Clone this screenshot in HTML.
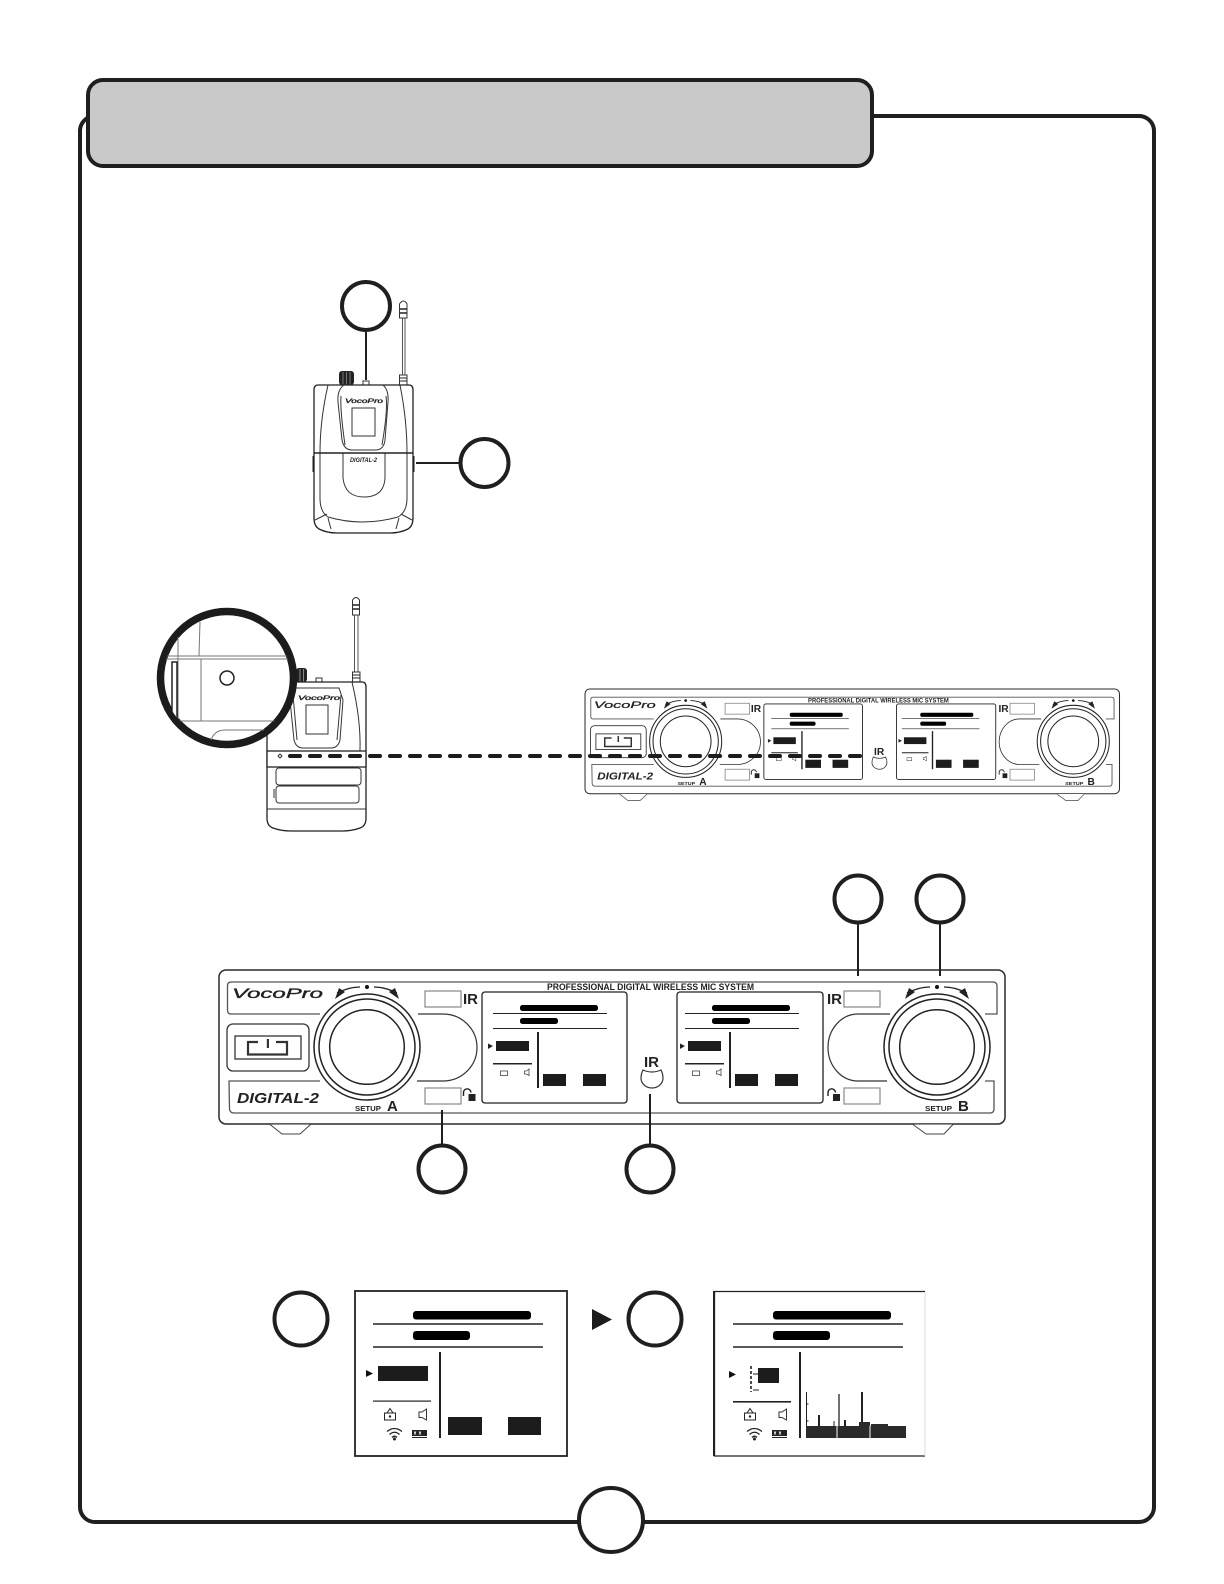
<!DOCTYPE html>
<html lang="en">
<head>
<meta charset="utf-8">
<title>Diagram</title>
<style>
html,body{margin:0;padding:0;background:#fff}
svg{display:block}
text{font-family:"Liberation Sans",sans-serif;fill:#222}
.logo{stroke:#222;stroke-width:.35}
</style>
</head>
<body>
<svg width="1224" height="1584" viewBox="0 0 1224 1584" xmlns="http://www.w3.org/2000/svg">
<defs>
<g id="knob">
  <circle r="53" fill="#fff" stroke="#222" stroke-width="1.5"/>
  <circle r="48" fill="#fff" stroke="#222" stroke-width="1.5"/>
  <circle r="37.3" fill="#fff" stroke="#222" stroke-width="1.5"/>
  <path d="M-30 -54 Q-18 -60 -7 -60 M7 -60 Q18 -60 30 -54" fill="none" stroke="#222" stroke-width="1.3"/>
  <circle cy="-60" r="2" fill="#111"/>
  <path d="M-32 -48 L-28 -59 L-22 -55Z M32 -48 L28 -59 L22 -55Z" fill="#222"/>
</g>
<g id="lock">
  <path d="M0 7 V3.5 A3.6 3.6 0 0 1 7.4 3.5" fill="none" stroke="#222" stroke-width="1.4"/>
  <rect x="5" y="5" width="7" height="7" fill="#222"/>
</g>
<g id="screen">
  <rect x="520" y="1005" width="78" height="6" rx="2.5" fill="#000"/>
  <path d="M493 1013.5H607M493 1028.5H607" stroke="#222" stroke-width="1"/>
  <rect x="520" y="1018" width="38" height="6" rx="2.5" fill="#000"/>
  <rect x="537" y="1032" width="2" height="56" fill="#222"/>
  <rect x="496" y="1041" width="33" height="10" fill="#1c1c1c"/>
  <path d="M488 1043.5L493 1046L488 1049Z" fill="#222"/>
  <rect x="493" y="1063" width="39" height="1.5" fill="#222"/>
  <rect x="500.500" y="1071" width="7" height="4.500" fill="none" stroke="#444" stroke-width=".8"/>
  <path d="M524.500 1071H526.500L529 1069V1075.500L526.500 1074H524.500Z" fill="none" stroke="#444" stroke-width=".8"/>
  <rect x="543" y="1074" width="23" height="12" fill="#1c1c1c"/>
  <rect x="583" y="1074" width="23" height="12" fill="#1c1c1c"/>
</g>
<g id="panel">
  <rect x="219" y="970" width="786" height="154" rx="7" fill="#fff" stroke="#2a2a2a" stroke-width="1.5"/>
  <path d="M270 1124.500L282 1134H300L310.500 1124.500M913 1124.500L926 1134H944L953 1124.500" fill="#fff" stroke="#444" stroke-width="1"/>
  <path d="M320 1014H231Q227.500 1014 227.500 1010V986Q227.500 982 231 982H993Q997 982 997 986V1014H985" fill="none" stroke="#555" stroke-width="1.3"/>
  <path d="M320 1081H229L229.500 1109Q230 1113 234 1113H990Q994 1113 994 1109V1081H985" fill="none" stroke="#555" stroke-width="1.3"/>
  <path d="M418 1014H443A34 33.500 0 0 1 477 1047.500A34 33.500 0 0 1 443 1081H417" fill="none" stroke="#333" stroke-width="1.2"/>
  <path d="M890 1014H858A30 33.500 0 0 0 828 1047.500A30 33.500 0 0 0 858 1081H887" fill="none" stroke="#333" stroke-width="1.2"/>
  <rect x="227" y="1024" width="82" height="47" rx="6" fill="#fff" stroke="#333" stroke-width="1.3"/>
  <rect x="235" y="1036" width="66" height="23" fill="#fff" stroke="#333" stroke-width="1.3"/>
  <path d="M258 1042H248V1054.500H287V1042H276" fill="none" stroke="#333" stroke-width="2.200"/>
  <rect x="266.800" y="1039" width="2.200" height="9" fill="#333"/>
  <use href="#knob" x="367" y="1047"/>
  <use href="#knob" x="937" y="1047"/>
  <rect x="425" y="991" width="36" height="16" fill="#fff" stroke="#888" stroke-width="1.200"/>
  <rect x="425" y="1088" width="36" height="16" fill="#fff" stroke="#888" stroke-width="1.200"/>
  <rect x="844" y="991" width="36" height="16" fill="#fff" stroke="#888" stroke-width="1.200"/>
  <rect x="844" y="1088" width="36" height="16" fill="#fff" stroke="#888" stroke-width="1.200"/>
  <use href="#lock" x="463.500" y="1089"/>
  <use href="#lock" x="828" y="1089"/>
  <rect x="482" y="992" width="145" height="111" rx="3" fill="#fff" stroke="#222" stroke-width="1.300"/>
  <rect x="677" y="992" width="146" height="111" rx="3" fill="#fff" stroke="#222" stroke-width="1.300"/>
  <use href="#screen"/>
  <use href="#screen" x="192"/>
  <path d="M643 1070Q652 1074 661 1070Q663 1074 663 1078A11 10 0 0 1 641 1078Q641 1074 643 1070Z" fill="#fff" stroke="#333" stroke-width="1.200"/>
</g>
<g id="wifi">
  <path d="M0 5Q7.500 -1 15 5M2.500 8Q7.500 3.500 12.500 8M5 11Q7.500 8.500 10 11" fill="none" stroke="#222" stroke-width="1.300"/>
  <circle cx="7.500" cy="12.500" r="1.500" fill="#222"/>
</g>
<g id="bigicons">
  <path d="M384.500 1413H395.500V1420H384.500Z M387 1413L390 1408.500L393 1413" fill="none" stroke="#222" stroke-width="1"/>
  <circle cx="390" cy="1416.500" r="1.200" fill="#222"/>
  <path d="M419 1412H422L426.500 1409V1420L422 1417.500H419Z" fill="none" stroke="#333" stroke-width="1"/>
  <use href="#wifi" x="387" y="1426.500"/>
  <rect x="412" y="1430" width="15" height="6" fill="#222"/>
  <path d="M412 1437.500H427" stroke="#222" stroke-width="1"/>
  <path d="M414 1431.500l2 3m0-3l-2 3M419 1431.500l2 3m0-3l-2 3" stroke="#fff" stroke-width=".8"/>
</g>
<clipPath id="lens"><circle cx="227" cy="678" r="64"/></clipPath>
</defs>

<!-- frame and header -->
<rect x="80" y="116" width="1074" height="1406" rx="15" fill="#fff" stroke="#1f1f1f" stroke-width="4"/>
<rect x="88" y="80" width="784" height="86" rx="15" fill="#c9c9c9" stroke="#1f1f1f" stroke-width="4"/>
<ellipse cx="611" cy="1520" rx="32" ry="32" fill="#fff" stroke="#1f1f1f" stroke-width="4"/>

<!-- receiver 1 -->
<g fill="none" stroke="#333" stroke-width="1">
  <rect x="339" y="371" width="15" height="14" rx="3" fill="#222" stroke="none"/>
  <path d="M343 372V385M346.500 372V385M350 372V385" stroke="#777"/>
  <rect x="363" y="381" width="6" height="4" fill="#fff"/>
  <path d="M402.500 318V376M405 318V376" stroke="#555"/>
  <path d="M399.500 318V304Q403.500 298 407 304V318Z" fill="#fff"/>
  <path d="M400 309H407M400 313H407" stroke="#222" stroke-width="1.500"/>
  <rect x="399.500" y="375" width="7.500" height="10" fill="#fff"/>
  <path d="M400 378H407M400 381H407" stroke="#222"/>
  <path d="M318 385H409Q413 385 413 390V518Q413 526 408 529Q400 533 390 533H337Q327 533 319 529Q314 526 314 518V390Q314 385 318 385Z" fill="#fff" stroke="#222" stroke-width="1.300"/>
  <path d="M328 385Q320 420 320 453V498Q320 512 328 517Q362 527 398 517Q407 512 407 498V453Q407 420 400 385"/>
  <path d="M344 385Q337 390 338 402L342 440Q344 450 352 450H375Q384 450 385 440L388 402Q389 390 383 385"/>
  <path d="M341 396Q340 410 345 445M386 396Q388 410 382 445"/>
  <rect x="352" y="408" width="23" height="28" fill="#fff"/>
  <path d="M343 453V478Q345 497 364 497Q384 497 385 478V453"/>
  <path d="M315 520L327 514M412 520L401 514M331 529L328 518M396 529L399 518"/>
  <path d="M314 453H413" stroke="#222" stroke-width="1.500"/>
  <path d="M313.500 456V472M413.500 456V472" stroke="#222" stroke-width="2"/>
</g>
<text class="logo" x="345" y="403" font-size="6.500" font-style="italic" textLength="38" lengthAdjust="spacingAndGlyphs">VocoPro</text>
<text x="350" y="462" font-size="6" font-style="italic" font-weight="bold" textLength="27" lengthAdjust="spacingAndGlyphs">DIGITAL-2</text>
<path d="M366 332V380" stroke="#1f1f1f" stroke-width="2"/>
<path d="M416 463H459" stroke="#1f1f1f" stroke-width="2"/>
<circle cx="366" cy="306" r="24" fill="#fff" stroke="#1f1f1f" stroke-width="4"/>
<circle cx="484.500" cy="463" r="24" fill="#fff" stroke="#1f1f1f" stroke-width="4"/>

<!-- receiver 2 -->
<g fill="none" stroke="#333" stroke-width="1">
  <rect x="296" y="668" width="11" height="14" rx="3" fill="#222" stroke="none"/>
  <path d="M300 669V682M303.500 669V682" stroke="#888"/>
  <rect x="316" y="678" width="6" height="4" fill="#fff"/>
  <path d="M354.500 615V672M358 615V672" stroke="#555"/>
  <path d="M352.500 615V600Q356 595 359.500 600V615Z" fill="#fff"/>
  <path d="M353 605H359M353 609H359" stroke="#222" stroke-width="1.500"/>
  <rect x="352.500" y="672" width="7.500" height="10" fill="#fff"/>
  <path d="M353 675H360M353 678H360" stroke="#222"/>
  <path d="M271 682H362Q366 682 366 687V818Q366 826 360 828Q352 831 342 831H291Q281 831 273 828Q267 826 267 818V687Q267 682 271 682Z" fill="#fff" stroke="#222" stroke-width="1.300"/>
  <path d="M352 682Q361 720 360 751"/>
  <path d="M295 688L290 700L294 740Q296 748 303 748H331Q338 748 340 740L343 700L339 688Z"/>
  <path d="M293 695L297 740M341 695L337 740"/>
  <rect x="306" y="705" width="22" height="29" fill="#fff"/>
  <rect x="267" y="751" width="99" height="16" fill="#fff" stroke="#222" stroke-width="1.300"/>
  <rect x="276" y="768" width="85" height="17" rx="3"/>
  <rect x="276" y="786" width="83" height="17" rx="3"/>
  <path d="M361 773V782M274 789V798M267 809H366"/>
  <path d="M280 754L282 756L280 758L278 756Z"/>
</g>
<text class="logo" x="298" y="700" font-size="6.500" font-style="italic" textLength="42" lengthAdjust="spacingAndGlyphs">VocoPro</text>

<!-- magnifier -->
<circle cx="227" cy="678" r="66.500" fill="#fff" stroke="#1c1c1c" stroke-width="7.500"/>
<g clip-path="url(#lens)" fill="none" stroke="#777" stroke-width="1">
  <path d="M150 656H300M150 659H300"/>
  <path d="M200 622L199 656"/>
  <path d="M178 630V720M201 659V721M150 721H300"/>
  <rect x="172" y="662" width="5" height="70" fill="#fff" stroke="#222" stroke-width="1.500"/>
  <path d="M210 745Q212 730 225 730H300"/>
</g>
<circle cx="227" cy="678" r="7" fill="#fff" stroke="#222" stroke-width="1.500"/>

<!-- small panel -->
<g transform="translate(436.100 29.400) scale(.68)">
  <use href="#panel"/>
  <text x="547" y="990" font-size="9" font-weight="bold" textLength="207" lengthAdjust="spacingAndGlyphs">PROFESSIONAL DIGITAL WIRELESS MIC SYSTEM</text>
  <text class="logo" x="232" y="998" font-size="14" font-style="italic" textLength="91" lengthAdjust="spacingAndGlyphs">VocoPro</text>
  <text x="237" y="1103" font-size="15" font-style="italic" font-weight="bold" textLength="82" lengthAdjust="spacingAndGlyphs">DIGITAL-2</text>
  <text x="355" y="1111" font-size="7" font-weight="bold" textLength="26" lengthAdjust="spacingAndGlyphs">SETUP</text>
  <text x="387" y="1111" font-size="15" font-weight="bold">A</text>
  <text x="925" y="1111" font-size="7" font-weight="bold" textLength="27" lengthAdjust="spacingAndGlyphs">SETUP</text>
  <text x="958" y="1111" font-size="15" font-weight="bold">B</text>
  <text x="463" y="1004" font-size="15" font-weight="bold">IR</text>
  <text x="827" y="1004" font-size="15" font-weight="bold">IR</text>
  <text x="644" y="1067" font-size="15" font-weight="bold">IR</text>
</g>
<path d="M290 756H866" stroke="#1c1c1c" stroke-width="4" stroke-dasharray="10 10" stroke-linecap="round"/>

<!-- large panel -->
<use href="#panel"/>
<text x="547" y="990" font-size="9" font-weight="bold" textLength="207" lengthAdjust="spacingAndGlyphs">PROFESSIONAL DIGITAL WIRELESS MIC SYSTEM</text>
<text class="logo" x="232" y="998" font-size="14" font-style="italic" textLength="91" lengthAdjust="spacingAndGlyphs">VocoPro</text>
<text x="237" y="1103" font-size="15" font-style="italic" font-weight="bold" textLength="82" lengthAdjust="spacingAndGlyphs">DIGITAL-2</text>
<text x="355" y="1111" font-size="7" font-weight="bold" textLength="26" lengthAdjust="spacingAndGlyphs">SETUP</text>
<text x="387" y="1111" font-size="15" font-weight="bold">A</text>
<text x="925" y="1111" font-size="7" font-weight="bold" textLength="27" lengthAdjust="spacingAndGlyphs">SETUP</text>
<text x="958" y="1111" font-size="15" font-weight="bold">B</text>
<text x="463" y="1004" font-size="15" font-weight="bold">IR</text>
<text x="827" y="1004" font-size="15" font-weight="bold">IR</text>
<text x="644" y="1067" font-size="15" font-weight="bold">IR</text>

<!-- callouts -->
<g stroke="#1f1f1f" stroke-width="2" fill="none">
  <path d="M858 924V976M940 924V976M442 1110V1145M650 1094V1145"/>
</g>
<g fill="#fff" stroke="#1f1f1f" stroke-width="4">
  <circle cx="858" cy="899" r="23.500"/>
  <circle cx="940" cy="899" r="23.500"/>
  <circle cx="442" cy="1169" r="23.500"/>
  <circle cx="650" cy="1169" r="23.500"/>
  <circle cx="301" cy="1319" r="26.500"/>
  <circle cx="655" cy="1319" r="26.500"/>
</g>
<path d="M592 1309L612 1319.500L592 1330Z" fill="#1c1c1c"/>

<!-- lower screens -->
<g id="s1">
  <rect x="355" y="1291" width="212" height="165" fill="#fff" stroke="#222" stroke-width="1.800"/>
  <rect x="413" y="1311" width="118" height="8.500" rx="3" fill="#000"/>
  <rect x="413" y="1331" width="57" height="9" rx="3" fill="#000"/>
  <path d="M373 1324H543M373 1347H543" stroke="#222" stroke-width="1.600"/>
  <rect x="439" y="1352" width="2" height="86" fill="#222"/>
  <rect x="378" y="1366" width="50" height="15" fill="#1c1c1c"/>
  <path d="M366 1370L373 1373.500L366 1377Z" fill="#111"/>
  <rect x="373" y="1400.500" width="58" height="1.200" fill="#222"/>
  <use href="#bigicons"/>
  <rect x="448" y="1417" width="34" height="18" fill="#1c1c1c"/>
  <rect x="508" y="1417" width="33" height="18" fill="#1c1c1c"/>
</g>
<g>
  <path d="M925 1291.500H714.500V1456H925" fill="#fff" stroke="#222" stroke-width="1.300"/>
  <path d="M714 1291V1456" stroke="#222" stroke-width="2"/>
  <path d="M925 1292V1456" stroke="#ddd" stroke-width="1"/>
  <rect x="773" y="1311" width="118" height="8.500" rx="3" fill="#000"/>
  <rect x="773" y="1331" width="57" height="9" rx="3" fill="#000"/>
  <path d="M733 1324H903M733 1347H903" stroke="#222" stroke-width="1.600"/>
  <rect x="799" y="1352" width="2" height="86" fill="#222"/>
  <path d="M751 1366V1392" stroke="#222" stroke-width="1.600" stroke-dasharray="3 2"/>
  <path d="M753 1374H758M753 1390H759" stroke="#222" stroke-width="1"/>
  <rect x="758" y="1368" width="21" height="15" fill="#1c1c1c"/>
  <path d="M729 1371L736 1374.500L729 1378Z" fill="#111"/>
  <rect x="733" y="1401" width="58" height="1.600" fill="#222"/>
  <use href="#bigicons" x="360"/>
  <rect x="806" y="1426" width="100" height="12" fill="#2a2a2a"/>
  <path d="M837 1426V1438M870 1426V1438" stroke="#fff" stroke-width="1"/>
  <path d="M806.500 1392V1426M834 1421V1426" stroke="#222" stroke-width="1"/>
  <path d="M819 1415V1426M845 1420V1426M862 1392V1426" stroke="#222" stroke-width="2"/>
  <path d="M839 1394V1426" stroke="#222" stroke-width="1.300"/>
  <path d="M807 1404H808.500M807 1421H808.500" stroke="#222" stroke-width="1"/>
  <rect x="859" y="1422" width="11" height="4" fill="#2a2a2a"/>
  <rect x="871" y="1424" width="17" height="2" fill="#2a2a2a"/>
</g>
</svg>
</body>
</html>
